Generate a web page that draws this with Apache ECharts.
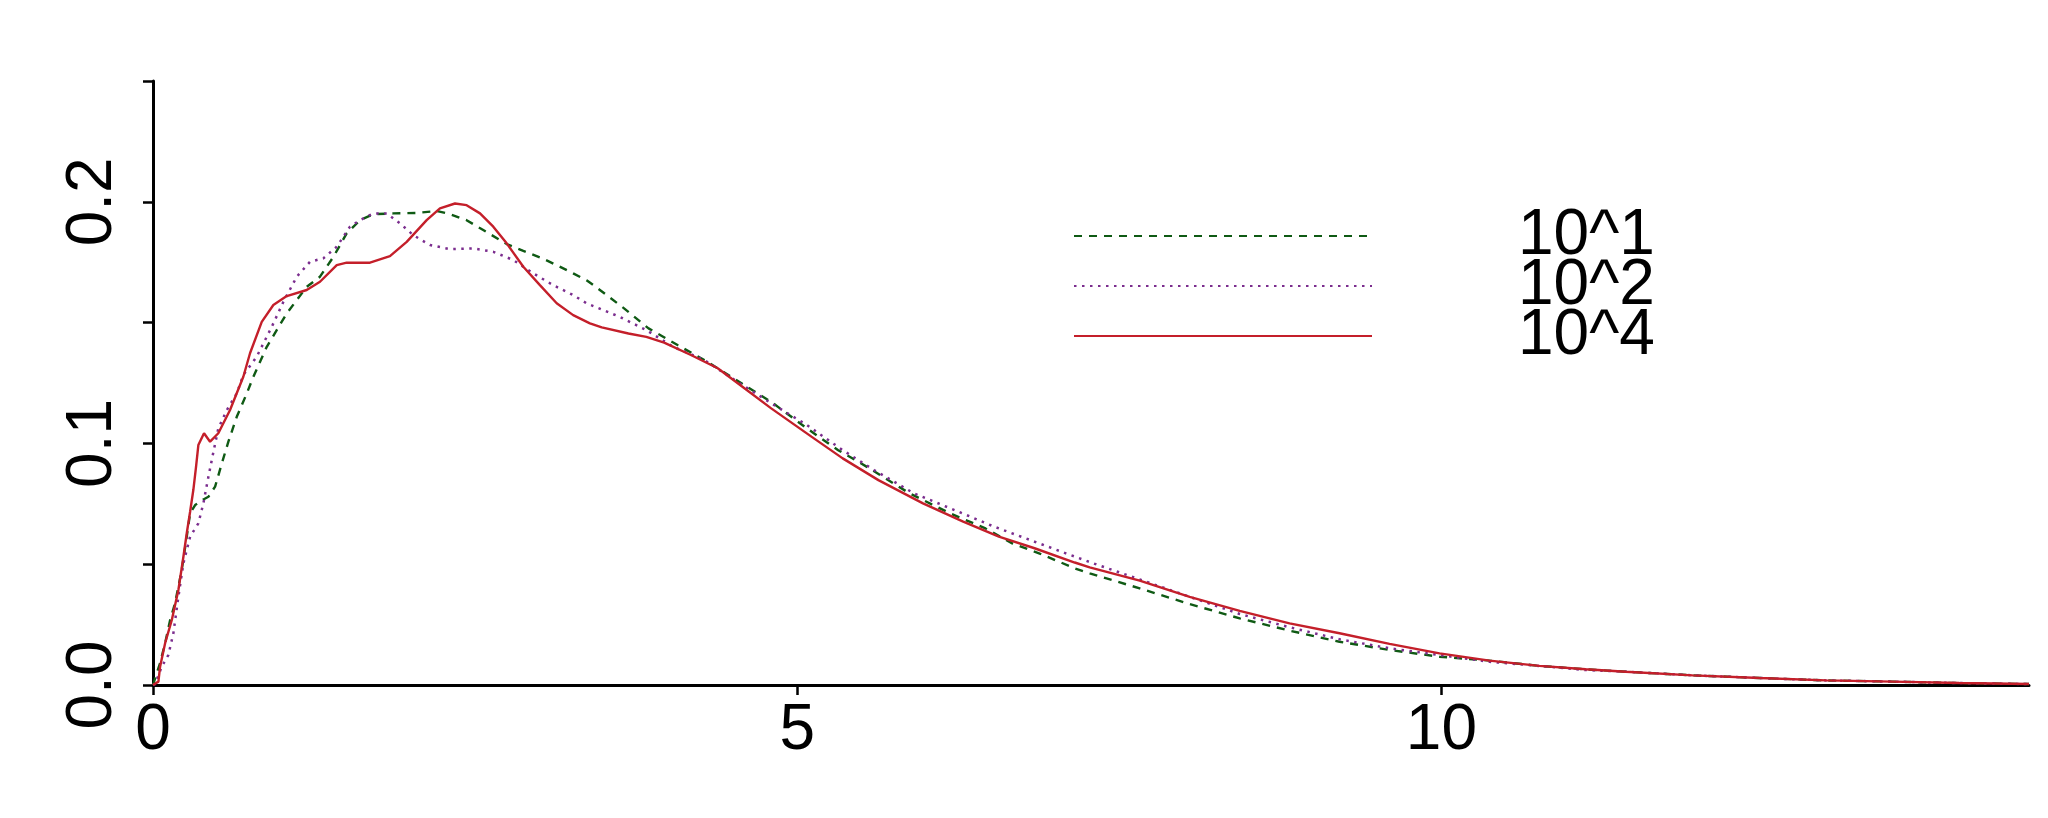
<!DOCTYPE html>
<html>
<head>
<meta charset="utf-8">
<script src="https://cdn.jsdelivr.net/npm/echarts@6/dist/echarts.min.js"></script>
<style>
html,body{margin:0;padding:0;background:#fff;}
#chart{width:2048px;height:818px;}
</style>
</head>
<body>
<div id="chart"></div>
<script>
// Series names
const seriesNames = ['10^1', '10^2', '10^4'];

// 10^1 (green dashed)
const greenX = [0, 0.055, 0.094, 0.133, 0.171, 0.223, 0.262, 0.288, 0.327, 0.391, 0.43, 0.482, 0.534, 0.585, 0.65, 0.728, 0.779, 0.883, 1.038, 1.193, 1.296, 1.4, 1.503, 1.607, 1.71, 1.865, 2.047, 2.202, 2.305, 2.434, 2.563, 2.745, 2.874, 3.003, 3.133, 3.261, 3.365, 3.431, 3.656, 3.846, 4.071, 4.279, 4.487, 4.798, 5.075, 5.318, 5.56, 5.872, 6.184, 6.461, 6.669, 6.877, 7.154, 7.27, 7.658, 8.046, 8.434, 8.821, 9.209, 9.597, 9.985, 10.373, 10.76, 11.12, 11.43, 11.95, 12.47, 12.985, 13.5, 14.02, 14.56];
const greenY = [0, 0.0091, 0.0173, 0.0269, 0.0338, 0.0476, 0.0614, 0.0711, 0.0745, 0.0768, 0.0779, 0.0821, 0.0917, 0.1007, 0.111, 0.1207, 0.1276, 0.14, 0.1538, 0.1648, 0.169, 0.1772, 0.1869, 0.1924, 0.1949, 0.1952, 0.1954, 0.1962, 0.1949, 0.1924, 0.1883, 0.1825, 0.1797, 0.177, 0.1738, 0.1704, 0.1675, 0.165, 0.1559, 0.1476, 0.1407, 0.1345, 0.1276, 0.1172, 0.1062, 0.0972, 0.0897, 0.0793, 0.0711, 0.0648, 0.0586, 0.0545, 0.0483, 0.0462, 0.04, 0.0335, 0.0276, 0.0225, 0.0179, 0.0145, 0.0117, 0.0101, 0.0079, 0.0065, 0.0055, 0.004, 0.0029, 0.0019, 0.0014, 0.0008, 0.0004];

// 10^2 (purple dotted)
const purpleX = [0, 0.016, 0.068, 0.119, 0.158, 0.197, 0.236, 0.288, 0.352, 0.391, 0.43, 0.469, 0.507, 0.573, 0.65, 0.701, 0.805, 0.922, 1.012, 1.116, 1.219, 1.322, 1.426, 1.529, 1.607, 1.71, 1.814, 1.917, 2.02, 2.15, 2.305, 2.486, 2.641, 2.796, 2.951, 3.106, 3.261, 3.365, 3.621, 3.829, 4.036, 4.279, 4.556, 4.798, 5.075, 5.353, 5.595, 5.907, 6.253, 6.53, 6.808, 7.085, 7.295, 7.658, 8.046, 8.434, 8.821, 9.209, 9.597, 9.985, 10.373, 10.76, 11.12, 11.43, 11.95, 12.47, 12.985, 13.5, 14.02, 14.56];
const purpleY = [0, 0.0004, 0.0076, 0.0124, 0.0214, 0.0365, 0.0504, 0.0614, 0.0669, 0.0752, 0.0862, 0.0965, 0.1062, 0.1138, 0.1207, 0.1283, 0.1359, 0.1483, 0.1586, 0.169, 0.1752, 0.1766, 0.1814, 0.1897, 0.1924, 0.1952, 0.1952, 0.1911, 0.1862, 0.1821, 0.1804, 0.1807, 0.1793, 0.1759, 0.1704, 0.1655, 0.1614, 0.158, 0.1524, 0.1469, 0.14, 0.1345, 0.1248, 0.1166, 0.1076, 0.0972, 0.089, 0.0793, 0.0717, 0.0655, 0.06, 0.0545, 0.0504, 0.0437, 0.0365, 0.0294, 0.0239, 0.0189, 0.0152, 0.0124, 0.0096, 0.0079, 0.0062, 0.0055, 0.004, 0.0029, 0.0019, 0.0014, 0.0008, 0.0004];

// 10^4 (red solid)
const redX = [0, 0.042, 0.055, 0.094, 0.146, 0.197, 0.236, 0.262, 0.288, 0.313, 0.334, 0.352, 0.396, 0.443, 0.507, 0.598, 0.701, 0.753, 0.844, 0.934, 1.038, 1.193, 1.296, 1.426, 1.503, 1.684, 1.839, 1.969, 2.124, 2.227, 2.344, 2.434, 2.538, 2.641, 2.745, 2.874, 3.003, 3.133, 3.261, 3.391, 3.483, 3.69, 3.829, 3.967, 4.175, 4.383, 4.59, 4.798, 5.11, 5.353, 5.63, 5.976, 6.288, 6.565, 6.842, 7.154, 7.27, 7.658, 8.046, 8.434, 8.821, 9.209, 9.597, 9.985, 10.373, 10.76, 11.12, 11.43, 11.95, 12.47, 12.985, 13.5, 14.02, 14.56];
const redY = [0, 0.0014, 0.0076, 0.0173, 0.0269, 0.0393, 0.0531, 0.0628, 0.0717, 0.0807, 0.0903, 0.0993, 0.1042, 0.1007, 0.1042, 0.1138, 0.1276, 0.1373, 0.1503, 0.1573, 0.161, 0.1635, 0.1669, 0.1738, 0.1748, 0.1748, 0.1775, 0.1834, 0.1924, 0.1973, 0.1993, 0.1986, 0.1952, 0.1897, 0.1828, 0.1731, 0.1655, 0.158, 0.1531, 0.1497, 0.148, 0.1455, 0.1441, 0.1417, 0.1366, 0.1311, 0.1228, 0.1145, 0.1028, 0.0938, 0.0848, 0.0752, 0.0676, 0.0614, 0.0566, 0.0507, 0.0487, 0.0432, 0.0365, 0.0307, 0.0255, 0.0214, 0.017, 0.0131, 0.0101, 0.0079, 0.0065, 0.0055, 0.004, 0.0029, 0.0019, 0.0014, 0.0008, 0.0004];

// Axis ticks
const xTicks = [0, 5, 10];
const yLabelTicks = [0, 0.1, 0.2];

const zip = (xs, ys) => xs.map((x, i) => [x, ys[i]]);
const FONT = "'Liberation Sans', Arial, sans-serif";

const chart = echarts.init(document.getElementById('chart'), null, {renderer: 'canvas'});
chart.setOption({
  backgroundColor: '#ffffff',
  animation: false,
  grid: {left: 153, right: 19, top: 81, bottom: 133, containLabel: false},
  legend: {
    orient: 'vertical',
    left: 1068,
    top: 199,
    itemWidth: 298,
    itemHeight: 14,
    itemGap: -14,
    selectedMode: false,
    itemStyle: {color: 'rgba(0,0,0,0)', borderWidth: 0, opacity: 0},
    textStyle: {fontSize: 64, fontFamily: FONT, color: '#000', lineHeight: 51, padding: [4, 0, 0, 141]},
    data: seriesNames
  },
  xAxis: {
    type: 'value',
    min: 0,
    max: 14.56,
    interval: 5,
    splitLine: {show: false},
    axisLine: {show: true, onZero: false, lineStyle: {color: '#000', width: 3}},
    axisTick: {show: true, length: 10, lineStyle: {color: '#000', width: 2.5}, customValues: xTicks},
    axisLabel: {customValues: xTicks, fontSize: 64, fontFamily: FONT, color: '#000', margin: 14}
  },
  yAxis: {
    type: 'value',
    min: 0,
    max: 0.25,
    interval: 0.05,
    splitLine: {show: false},
    axisLine: {show: true, lineStyle: {color: '#000', width: 3}},
    axisTick: {show: true, length: 10, lineStyle: {color: '#000', width: 2.5}},
    axisLabel: {
      customValues: yLabelTicks,
      rotate: 90,
      fontSize: 64, fontFamily: FONT, color: '#000', margin: 28,
      formatter: v => Number(v).toFixed(1)
    }
  },
  series: [
    {name: seriesNames[0], type: 'line', data: zip(greenX, greenY), symbol: 'none', smooth: false,
     lineStyle: {color: '#0f5a14', width: 2.4, type: [8, 7]}, itemStyle: {color: '#0f5a14'}},
    {name: seriesNames[1], type: 'line', data: zip(purpleX, purpleY), symbol: 'none', smooth: false,
     lineStyle: {color: '#7b2d8e', width: 2.5, type: [2.5, 5.5]}, itemStyle: {color: '#7b2d8e'}},
    {name: seriesNames[2], type: 'line', data: zip(redX, redY), symbol: 'none', smooth: false,
     lineStyle: {color: '#c41f2a', width: 2.4, type: 'solid'}, itemStyle: {color: '#c41f2a'}}
  ]
});
</script>
</body>
</html>
